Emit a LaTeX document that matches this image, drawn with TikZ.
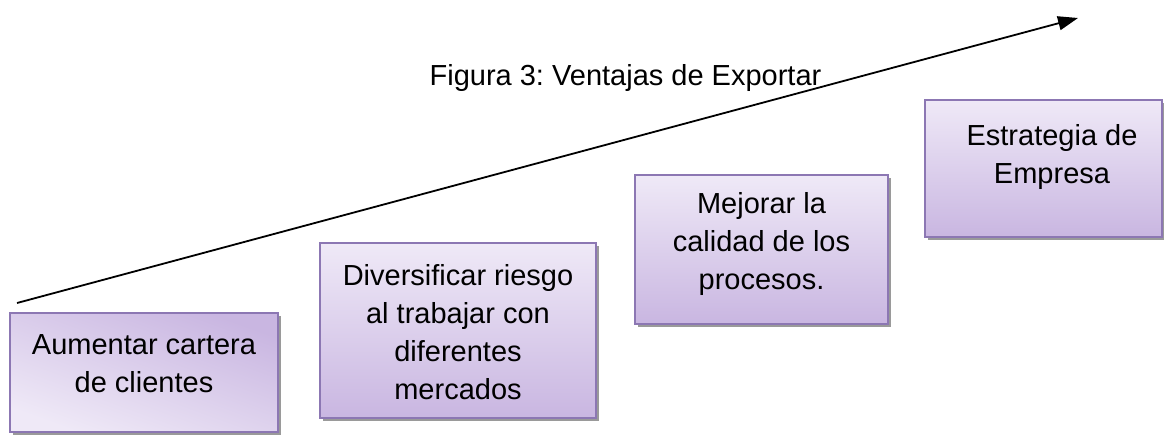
\documentclass[tikz,border=0pt]{standalone}
\usepackage{fontspec}
\setmainfont{Liberation Sans}
\frenchspacing
\usetikzlibrary{arrows.meta}
\definecolor{boxtop}{HTML}{EFE9F7}
\definecolor{boxbot}{HTML}{C9B6E1}
\definecolor{boxline}{HTML}{8C77B3}
\definecolor{shadowc}{HTML}{9A9A9A}
\tikzset{
  pbox/.style={draw=boxline, line width=1.4pt, top color=boxtop, bottom color=boxbot},
  pshadow/.style={fill=shadowc},
  ptext/.style={font=\fontsize{29}{38}\selectfont, align=center, inner sep=0pt, anchor=north},
}
\begin{document}
\begin{tikzpicture}[x=1pt,y=-1pt]
\useasboundingbox (0,0) rectangle (1164,434);
% shadows
\fill[pshadow] (13,316) rectangle (281,435);
\fill[pshadow] (323,246) rectangle (599,421);
\fill[pshadow] (638,178) rectangle (891,327);
\fill[pshadow] (928,103) rectangle (1165,240);
% boxes
\path[pbox, shading angle=160] (10,313) rectangle (278,432);
\path[pbox] (320,243) rectangle (596,418);
\path[pbox] (635,175) rectangle (888,324);
\path[pbox] (925,100) rectangle (1162,237);
% texts
\node[ptext] (t1) at (144,334) {Aumentar cartera\\de clientes};
\node[ptext] (t2) at (458,264) {Diversificar riesgo\\al trabajar con\\diferentes\\mercados};
\node[ptext] (t3) at (761.5,192) {Mejorar la\\calidad de los\\procesos.};
\node[ptext] (t4) at (1052,124) {Estrategia de\\Empresa};
\node[font=\fontsize{29}{34}\selectfont, inner sep=0pt, anchor=base] (title) at (625.5,85) {Figura 3: Ventajas de Exportar};
% arrow
\coordinate (as) at (17,303);
\coordinate (ae) at (1078,18);
\draw[line width=1.8pt, -{Triangle[length=20pt,width=14pt]}] (as) -- (ae);
\end{tikzpicture}
\end{document}
